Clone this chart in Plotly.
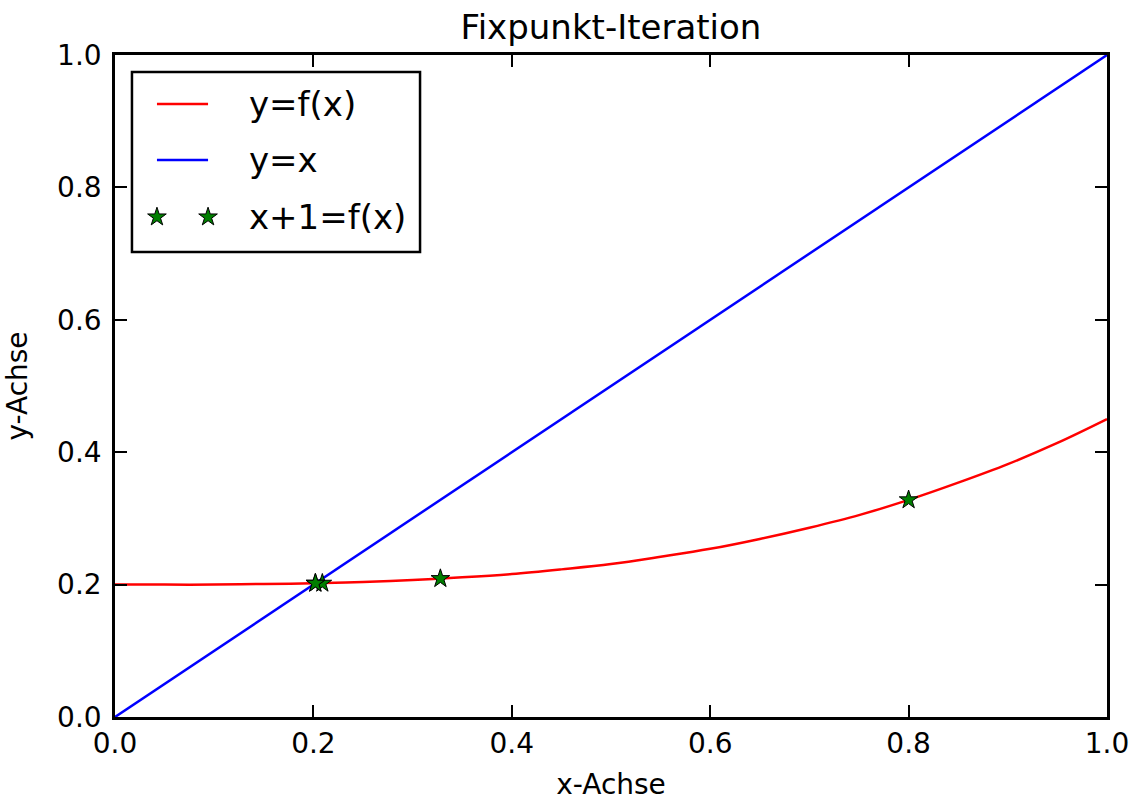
import plotly.graph_objects as go

# ---- data ----
curve_x = [0.00, 0.05, 0.10, 0.15, 0.20, 0.25, 0.30, 0.35, 0.40, 0.45, 0.50,
           0.55, 0.60, 0.65, 0.70, 0.75, 0.80, 0.85, 0.90, 0.95, 1.00]
curve_y = [0.200, 0.200, 0.200, 0.201, 0.202, 0.204, 0.207, 0.211, 0.216, 0.223, 0.231,
           0.242, 0.254, 0.269, 0.286, 0.305, 0.328, 0.354, 0.382, 0.414, 0.450]
ident_x = [0.0, 1.0]
ident_y = [0.0, 1.0]
iter_x = [0.800, 0.328, 0.209, 0.202, 0.202]
iter_y = [0.328, 0.209, 0.202, 0.202, 0.202]
legend_labels = ["y=f(x)", "y=x", "x+1=f(x)"]
tick_vals = [0.0, 0.2, 0.4, 0.6, 0.8, 1.0]

RED = "#ff0000"
BLUE = "#0000ff"
GREEN = "#007f00"
FONT = "DejaVu Sans"
LW = 2.5

fig = go.Figure()
fig.add_trace(go.Scatter(x=curve_x, y=curve_y, mode="lines", line=dict(color=RED, width=LW, shape="spline"),
                         name=legend_labels[0], showlegend=False))
fig.add_trace(go.Scatter(x=ident_x, y=ident_y, mode="lines", line=dict(color=BLUE, width=LW),
                         name=legend_labels[1], showlegend=False))
fig.add_trace(go.Scatter(x=iter_x, y=iter_y, mode="markers",
                         marker=dict(symbol="star", size=14, color=GREEN, line=dict(color="black", width=1)),
                         name=legend_labels[2], showlegend=False))

# ---- custom legend (matplotlib style, two markers for star entry) ----
lx0, lx1, ly0, ly1 = 0.0171, 0.3075, 0.7024, 0.9743
row_y = [0.926, 0.8414, 0.7553]
sym_x0, sym_x1 = 0.0423, 0.0938
text_x = 0.133
shapes = [dict(type="rect", xref="paper", yref="paper", x0=lx0, x1=lx1, y0=ly0, y1=ly1,
               line=dict(color="black", width=2.5), fillcolor="white", layer="below")]
for ry, col in zip(row_y[:2], [RED, BLUE]):
    shapes.append(dict(type="line", xref="paper", yref="paper", x0=sym_x0, x1=sym_x1, y0=ry, y1=ry,
                       line=dict(color=col, width=LW), layer="above"))
fig.add_trace(go.Scatter(x=[sym_x0, sym_x1], y=[row_y[2], row_y[2]], xaxis="x2", yaxis="y2", mode="markers",
                         marker=dict(symbol="star", size=14, color=GREEN, line=dict(color="black", width=1)),
                         showlegend=False, hoverinfo="skip", cliponaxis=False))
annotations = []
for ry, lab in zip(row_y, legend_labels):
    annotations.append(dict(xref="paper", yref="paper", x=text_x, y=ry, text=lab, showarrow=False,
                            xanchor="left", yanchor="middle", font=dict(family=FONT, size=34, color="black")))

axis_common = dict(range=[0, 1], tickvals=tick_vals, tickformat=".1f", showgrid=False, zeroline=False,
                   showline=True, linecolor="black", linewidth=2.5, mirror="allticks",
                   ticks="inside", ticklen=12, tickwidth=2, tickcolor="black", automargin=False,
                   tickfont=dict(family=FONT, size=28, color="black"))

fig.update_layout(
    width=1138, height=801,
    margin=dict(l=115, r=31, t=55, b=84, autoexpand=False),
    paper_bgcolor="white", plot_bgcolor="white",
    showlegend=False,
    title=dict(text="Fixpunkt-Iteration", xref="paper", x=0.5, xanchor="center",
               yref="container", y=1 - 39 / 801, yanchor="bottom",
               font=dict(family=FONT, size=34, color="black")),
    xaxis=dict(**axis_common, title=dict(text="x-Achse", font=dict(family=FONT, size=28, color="black"), standoff=20)),
    yaxis=dict(**axis_common, ticklabelstandoff=5,
               title=dict(text="y-Achse", font=dict(family=FONT, size=28, color="black"), standoff=22)),
    xaxis2=dict(range=[0, 1], overlaying="x", visible=False, fixedrange=True),
    yaxis2=dict(range=[0, 1], overlaying="y", visible=False, fixedrange=True),
    shapes=shapes,
    annotations=annotations,
)

# remove the default page margin so the figure fills the window exactly
fig.write_html("out.html", config={"displayModeBar": False},
               post_script="document.body.style.margin='0';")
